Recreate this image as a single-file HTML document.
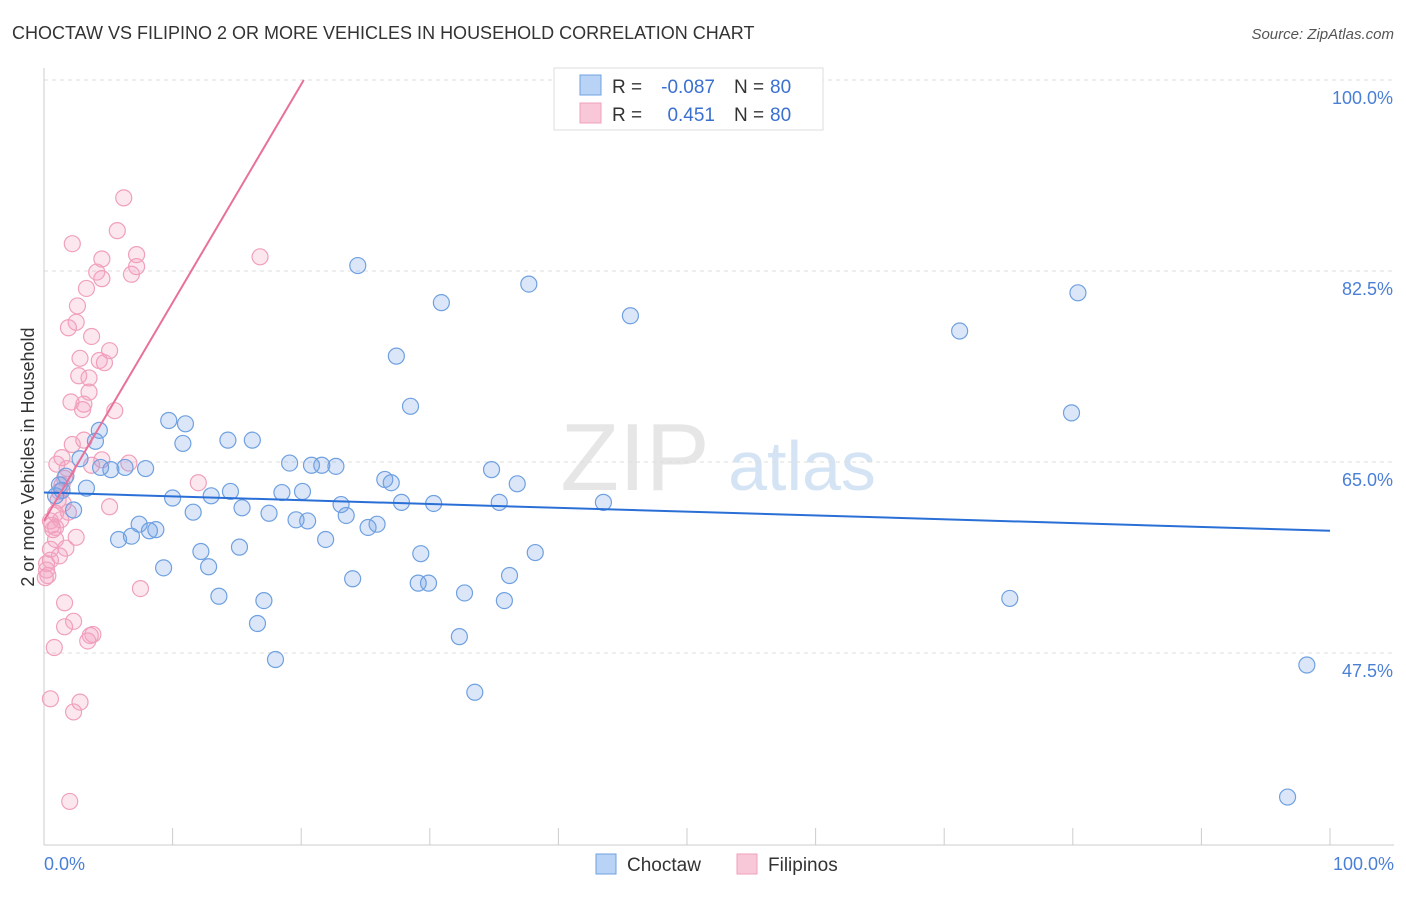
<!DOCTYPE html>
<html><head><meta charset="utf-8"><style>
body{margin:0;background:#fff;font-family:"Liberation Sans",sans-serif;}
svg text{font-family:"Liberation Sans",sans-serif;}
</style></head><body>
<svg width="1406" height="892">
<text x="12" y="39" font-size="18" fill="#333">CHOCTAW VS FILIPINO 2 OR MORE VEHICLES IN HOUSEHOLD CORRELATION CHART</text>
<text x="1394" y="39" font-size="15" fill="#555" font-style="italic" text-anchor="end">Source: ZipAtlas.com</text>
<g>
<text x="635" y="490" font-size="96" fill="#e6e6e6" font-family="Liberation Serif" text-anchor="middle">ZIP</text>
<text x="802" y="490" font-size="70" fill="#d5e4f4" text-anchor="middle">atlas</text>
</g>
<g id="grid"></g>
<line x1="44" y1="68" x2="44" y2="845" stroke="#ccc"/>
<line x1="44" y1="845" x2="1394" y2="845" stroke="#ccc"/>
<g id="ticks"></g>
<text x="44" y="870" font-size="18" fill="#4a7fd6">0.0%</text>
<text x="1394" y="870" font-size="18" fill="#4a7fd6" text-anchor="end">100.0%</text>
<text transform="translate(34,457) rotate(-90)" font-size="18" fill="#333" text-anchor="middle">2 or more Vehicles in Household</text>
<g id="pts"></g>
<g id="lines"></g>
<g>
<rect x="554" y="68" width="269" height="62" fill="#fff" stroke="#ddd"/>
<rect x="580" y="75" width="21" height="20" fill="#b8d3f5" stroke="#6fa0e0"/>
<rect x="580" y="103" width="21" height="20" fill="#f9c8d8" stroke="#f0a0bb"/>
<text x="612" y="93" font-size="19" fill="#333">R =</text>
<text x="715" y="93" font-size="19" fill="#3a70d0" text-anchor="end">-0.087</text>
<text x="734" y="93" font-size="19" fill="#333">N =</text>
<text x="770" y="93" font-size="19" fill="#3a70d0">80</text>
<text x="612" y="121" font-size="19" fill="#333">R =</text>
<text x="715" y="121" font-size="19" fill="#3a70d0" text-anchor="end">0.451</text>
<text x="734" y="121" font-size="19" fill="#333">N =</text>
<text x="770" y="121" font-size="19" fill="#3a70d0">80</text>
</g>
<g>
<rect x="596" y="854" width="20" height="20" fill="#b8d3f5" stroke="#6fa0e0"/>
<text x="627" y="871" font-size="19" fill="#333">Choctaw</text>
<rect x="737" y="854" width="20" height="20" fill="#f9c8d8" stroke="#f0a0bb"/>
<text x="768" y="871" font-size="19" fill="#333">Filipinos</text>
</g>
</svg>
<script>
const yTicks=[100,82.5,65,47.5];
const yTickLabels=["100.0%","82.5%","65.0%","47.5%"];
const xTicks=[0,10,20,30,40,50,60,70,80,90,100];
const blueX=[24.4,37.7,30.9,45.6,80.4,71.2,27.4,28.5,79.9,9.7,11.0,10.8,4.0,4.3,14.3,16.2,2.8,5.2,7.9,6.3,19.1,20.8,21.6,22.7,34.8,26.5,27.0,36.8,3.3,1.4,14.5,10.0,13.0,18.5,20.1,27.8,30.3,35.4,43.5,23.1,15.4,17.5,11.6,2.3,23.5,19.6,20.5,25.9,25.2,7.4,8.7,8.2,6.8,5.8,21.9,15.2,12.2,29.3,38.2,9.3,12.8,24.0,36.2,29.1,29.9,32.7,13.6,17.1,35.8,16.6,32.3,18.0,33.5,75.1,98.2,96.7,0.9,1.7,1.2,4.4];
const blueY=[83.0,81.3,79.6,78.4,80.5,77.0,74.7,70.1,69.5,68.8,68.5,66.7,66.9,67.9,67.0,67.0,65.3,64.3,64.4,64.5,64.9,64.7,64.7,64.6,64.3,63.4,63.1,63.0,62.6,62.4,62.3,61.7,61.9,62.2,62.3,61.3,61.2,61.3,61.3,61.1,60.8,60.3,60.4,60.6,60.1,59.7,59.6,59.3,59.0,59.3,58.8,58.7,58.2,57.9,57.9,57.2,56.8,56.6,56.7,55.3,55.4,54.3,54.6,53.9,53.9,53.0,52.7,52.3,52.3,50.2,49.0,46.9,43.9,52.5,46.4,34.3,61.9,63.7,62.9,64.5];
const pinkX=[6.2,5.7,2.2,7.2,4.5,7.2,16.8,4.1,4.5,6.8,3.3,2.6,2.5,1.9,3.7,5.1,2.8,4.3,4.7,3.5,2.7,3.5,2.1,3.1,3.0,5.5,2.2,3.1,1.4,1.0,1.8,4.5,6.6,3.7,12.0,1.6,1.2,1.1,1.5,5.1,1.9,0.9,0.5,0.6,2.5,0.9,1.7,0.5,1.2,0.2,0.5,0.3,0.2,7.5,1.6,2.3,1.6,3.6,3.8,3.4,0.8,0.5,2.8,2.3,2.0,0.9,1.4,1.3,0.7,0.1];
const pinkY=[89.2,86.2,85.0,84.0,83.6,82.9,83.8,82.4,81.8,82.2,80.9,79.3,77.8,77.3,76.5,75.2,74.5,74.3,74.1,72.7,72.9,71.4,70.5,70.3,69.8,69.7,66.6,67.0,65.4,64.8,64.4,65.2,64.9,64.7,63.1,63.5,62.3,61.5,61.2,60.9,60.4,60.3,59.6,59.2,58.1,57.9,57.1,57.0,56.4,55.7,56.0,54.6,55.1,53.4,52.1,50.4,49.9,49.1,49.2,48.6,48.0,43.3,43.0,42.1,33.9,59.0,62.9,59.7,58.8,54.4];
const blueTrend=[62.2,58.7]; // value at x=0 and x=100
const pinkTrend=[59.6,2.0]; // intercept, slope
const NS="http://www.w3.org/2000/svg";
const X=v=>44+v*12.86, Y=v=>80+(100-v)*10.914;
function mk(t,a,p){const e=document.createElementNS(NS,t);for(const k in a)e.setAttribute(k,a[k]);p.appendChild(e);return e;}
const grid=document.getElementById('grid');
yTicks.forEach((t,i)=>{
 const l=mk('line',{x1:44,x2:1394,y1:Y(t),y2:Y(t),stroke:'#ddd','stroke-dasharray':'4,4'},grid);
 
 
 const tx=mk('text',{x:1393,y:Y(t)+24,'font-size':18,fill:'#4a7fd6','text-anchor':'end'},grid);
 tx.textContent=yTickLabels[i];
 
 
});
const ticks=document.getElementById('ticks');
xTicks.forEach(t=>{
 const l=mk('line',{x1:X(t),x2:X(t),y1:828,y2:845,stroke:'#ccc'},ticks);
 
 
});
const pts=document.getElementById('pts');
pinkX.forEach((v,i)=>{
 const c=mk('circle',{cx:X(v),cy:Y(pinkY[i]),r:8,fill:'rgba(243,160,190,0.25)',stroke:'#f0a0bb','stroke-width':1.2},pts);
 
 
});
blueX.forEach((v,i)=>{
 const c=mk('circle',{cx:X(v),cy:Y(blueY[i]),r:8,fill:'rgba(110,160,230,0.25)',stroke:'#6fa0e0','stroke-width':1.2},pts);
 
 
});
const lines=document.getElementById('lines');
const bl=mk('line',{x1:X(0),y1:Y(blueTrend[0]),x2:X(100),y2:Y(blueTrend[1]),stroke:'#2a6fd6','stroke-width':2},lines);


const xEnd=(100-pinkTrend[0])/pinkTrend[1];
const pl=mk('line',{x1:X(0),y1:Y(pinkTrend[0]),x2:X(xEnd),y2:Y(100),stroke:'#e8709a','stroke-width':2},lines);


</script>
</body></html>
